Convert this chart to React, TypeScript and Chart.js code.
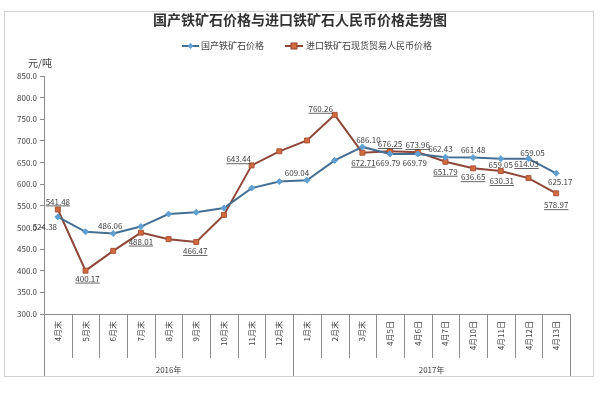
import { useEffect, useRef } from "react";
import { Chart, registerables } from "chart.js";

Chart.register(...registerables);

const chartTitle = "国产铁矿石价格与进口铁矿石人民币价格走势图";
const unitLabel = "元/吨";
const seriesNames = ["国产铁矿石价格", "进口铁矿石现货贸易人民币价格"];
const categories = [
  "4月末", "5月末", "6月末", "7月末", "8月末", "9月末", "10月末", "11月末", "12月末",
  "1月末", "2月末", "3月末", "4月5日", "4月6日", "4月7日", "4月10日", "4月11日", "4月12日", "4月13日",
];
const years = ["2016年", "2017年"];
const yearCounts = [9, 10];
const domestic = [524.38, 490, 486.06, 502, 531, 535, 545, 591, 606, 609.04, 655, 686.1, 669.79, 669.79, 662.43, 661.48, 659.05, 659.05, 625.17];
const imported = [541.48, 400.17, 446, 488.01, 473, 466.47, 529, 643.44, 676, 701, 760.26, 672.71, 676.25, 673.96, 651.79, 636.65, 630.31, 614.03, 578.97];
const domesticShown = [1, 0, 1, 0, 0, 0, 0, 0, 0, 1, 0, 1, 1, 1, 1, 1, 1, 1, 1];
const importedShown = [1, 1, 0, 1, 0, 1, 0, 1, 0, 0, 1, 1, 1, 1, 1, 1, 1, 1, 1];
const yMin = 300;
const yMax = 850;
const yStep = 50;

// label placement offsets (style, not data)
const domesticOffsets: [number, number][] = [
  [-13, 10], [0, 0], [-3, -8], [0, 0], [0, 0], [0, 0], [0, 0], [0, 0], [0, 0],
  [-10, -7], [0, 0], [6, -7], [-2, 9], [-3, 9], [-5, -8], [0, -8], [0, 6], [4, -6], [4, 9],
];
const importedOffsets: [number, number][] = [
  [0, -8], [2, 8], [0, 0], [0, 9], [0, 0], [-1, 9], [0, 0], [-13, -6], [0, 0],
  [0, 0], [-14, -6], [1, 10], [0, -7], [0, -7], [0, 10], [0, 9], [1, 10], [-2, -14], [0, 12],
];

const FONT = "'Noto Sans CJK SC', 'Noto Sans', sans-serif";
const BLUE_LINE = "#446f93";
const BLUE_MARK = "#5f9fd2";
const RED_LINE = "#8e4638";
const RED_MARK = "#d46a3c";
const AXIS = "#8c8c8c";
const TEXT = "#404040";

const decor = {
  id: "decor",
  afterDatasetsDraw(chart: any) {
    const ctx = chart.ctx;
    ctx.save();
    ctx.font = `8px ${FONT}`;
    ctx.textAlign = "center";
    ctx.textBaseline = "middle";
    ctx.fillStyle = TEXT;
    const draw = (di: number, vals: number[], shown: number[], offs: [number, number][], underline: boolean) => {
      const meta = chart.getDatasetMeta(di);
      vals.forEach((v, i) => {
        if (!shown[i]) return;
        const p = meta.data[i];
        const x = p.x + offs[i][0];
        const y = p.y + offs[i][1];
        const t = v.toFixed(2);
        ctx.fillText(t, x, y);
        if (underline) {
          const w = ctx.measureText(t).width;
          ctx.fillRect(x - w / 2, y + 4, w, 0.8);
        }
      });
    };
    draw(0, domestic, domesticShown, domesticOffsets, false);
    draw(1, imported, importedShown, importedOffsets, true);
    ctx.restore();
  },
  afterDraw(chart: any) {
    const ctx = chart.ctx;
    const area = chart.chartArea;
    const xs = chart.scales.x;
    ctx.save();
    // outer border
    ctx.strokeStyle = "#d0d0d0";
    ctx.lineWidth = 1;
    ctx.strokeRect(4.5, 11.5, 589, 365);
    // title
    ctx.fillStyle = "#333";
    ctx.textAlign = "center";
    ctx.textBaseline = "middle";
    ctx.font = `bold 14px ${FONT}`;
    ctx.fillText(chartTitle, 300, 20);
    // legend
    ctx.font = `9px ${FONT}`;
    ctx.textAlign = "left";
    const legY = 46;
    ctx.strokeStyle = BLUE_LINE;
    ctx.lineWidth = 2;
    ctx.beginPath();
    ctx.moveTo(182, legY);
    ctx.lineTo(199, legY);
    ctx.stroke();
    ctx.fillStyle = BLUE_MARK;
    ctx.beginPath();
    ctx.moveTo(190.5, legY - 3);
    ctx.lineTo(193.5, legY);
    ctx.lineTo(190.5, legY + 3);
    ctx.lineTo(187.5, legY);
    ctx.closePath();
    ctx.fill();
    ctx.fillStyle = TEXT;
    ctx.fillText(seriesNames[0], 201, legY);
    ctx.strokeStyle = RED_LINE;
    ctx.beginPath();
    ctx.moveTo(285, legY);
    ctx.lineTo(303, legY);
    ctx.stroke();
    ctx.fillStyle = RED_MARK;
    ctx.fillRect(291, legY - 3, 6, 6);
    ctx.strokeStyle = RED_LINE;
    ctx.lineWidth = 1;
    ctx.strokeRect(291, legY - 3, 6, 6);
    ctx.fillStyle = TEXT;
    ctx.fillText(seriesNames[1], 306, legY);
    // unit
    ctx.font = `10px ${FONT}`;
    ctx.fillText(unitLabel, 28, 63);
    // category separators below axis
    const n = categories.length;
    const step = xs.getPixelForValue(1) - xs.getPixelForValue(0);
    const bottom = area.bottom;
    const groupEnds: number[] = [];
    let acc = 0;
    yearCounts.forEach((c) => {
      acc += c;
      groupEnds.push(acc);
    });
    ctx.strokeStyle = AXIS;
    ctx.lineWidth = 1;
    for (let i = 0; i <= n; i++) {
      const x = Math.round(xs.getPixelForValue(0) - step / 2 + step * i) + 0.5;
      const full = i === 0 || groupEnds.includes(i);
      ctx.beginPath();
      ctx.moveTo(x, bottom);
      ctx.lineTo(x, full ? 376 : 358);
      ctx.stroke();
    }
    // year labels
    ctx.font = `8px ${FONT}`;
    ctx.textAlign = "center";
    ctx.fillStyle = TEXT;
    let start = 0;
    yearCounts.forEach((c, gi) => {
      const x0 = xs.getPixelForValue(start) - step / 2;
      const x1 = xs.getPixelForValue(start + c - 1) + step / 2;
      ctx.fillText(years[gi], (x0 + x1) / 2, 370);
      start += c;
    });
    ctx.restore();
  },
};

export default function App() {
  const ref = useRef<HTMLCanvasElement | null>(null);
  useEffect(() => {
    document.body.style.margin = "0";
    const canvas = ref.current;
    if (!canvas) return;
    const chart = new Chart(canvas, {
      type: "line",
      data: {
        labels: categories,
        datasets: [
          {
            label: seriesNames[0],
            data: domestic,
            borderColor: BLUE_LINE,
            backgroundColor: BLUE_MARK,
            borderWidth: 2,
            pointStyle: "rectRot",
            pointRadius: 3,
            pointBorderWidth: 1,
            pointBorderColor: BLUE_MARK,
            pointBackgroundColor: BLUE_MARK,
            tension: 0,
          },
          {
            label: seriesNames[1],
            data: imported,
            borderColor: RED_LINE,
            backgroundColor: RED_MARK,
            borderWidth: 2,
            pointStyle: "rect",
            pointRadius: 3.5,
            pointBorderWidth: 1,
            pointBorderColor: "#a8553c",
            pointBackgroundColor: RED_MARK,
            tension: 0,
          },
        ],
      },
      options: {
        responsive: false,
        animation: false,
        devicePixelRatio: 1,
        layout: { padding: { top: 76, right: 41, bottom: 0, left: 0 } },
        plugins: {
          legend: { display: false },
          title: { display: false },
          tooltip: { enabled: false },
        },
        scales: {
          x: {
            type: "category",
            offset: true,
            grid: { display: false, drawTicks: false },
            border: { display: true, color: AXIS },
            ticks: {
              autoSkip: false,
              minRotation: 90,
              maxRotation: 90,
              padding: 7,
              color: TEXT,
              font: { size: 8, family: FONT },
            },
            afterFit: (s: any) => {
              s.height = 79;
            },
          },
          y: {
            min: yMin,
            max: yMax,
            grid: { drawOnChartArea: false, drawTicks: true, tickLength: 4, color: AXIS },
            border: { display: true, color: AXIS },
            ticks: {
              stepSize: yStep,
              padding: 3,
              color: TEXT,
              font: { size: 8, family: FONT },
              callback: (v: any) => Number(v).toFixed(1),
            },
            afterFit: (s: any) => {
              s.width = 44;
            },
          },
        },
      },
      plugins: [decor],
    });
    return () => chart.destroy();
  }, []);
  return (
    <div style={{ width: 611, height: 393, background: "#fff" }}>
      <canvas ref={ref} width={611} height={393} style={{ display: "block", width: 611, height: 393 }} />
    </div>
  );
}
